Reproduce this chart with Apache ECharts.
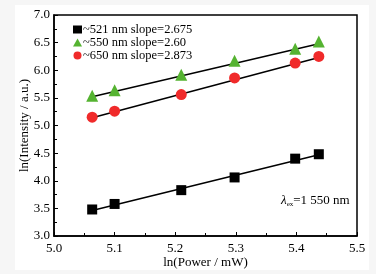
<!DOCTYPE html>
<html>
<head>
<meta charset="utf-8">
<script src="https://cdn.jsdelivr.net/npm/echarts@6/dist/echarts.min.js"></script>
<style>
  html, body { margin: 0; padding: 0; background: #f6f6f6; }
  #paper { position: absolute; left: 15px; top: 5px; width: 354px; height: 265px; background: #fff; }
  #main { position: absolute; left: 0; top: 0; width: 376px; height: 274px; }
</style>
</head>
<body>
<div id="paper"></div>
<div id="main"></div>
<script>
// ln(Power / mW)
var lnPower = [5.063, 5.100, 5.210, 5.298, 5.398, 5.437];
// ln(Intensity) per emission band
var band521 = [3.48, 3.58, 3.83, 4.06, 4.40, 4.48];
var band550 = [5.54, 5.64, 5.92, 6.17, 6.39, 6.52];
var band650 = [5.15, 5.26, 5.56, 5.86, 6.13, 6.25];
// fitted line ends
var fitX = [5.063, 5.437];
var fit521 = [3.46, 4.47];
var fit550 = [5.52, 6.48];
var fit650 = [5.14, 6.23];
var names = ['~521 nm slope=2.675', '~550 nm slope=2.60', '~650 nm slope=2.873'];

var font = 'Liberation Serif';
var pairs = function (xs, ys) { return xs.map(function (x, i) { return [x, ys[i]]; }); };

var axisCommon = {
    axisLine: { show: true, lineStyle: { color: '#000', width: 1.5 } },
    axisTick: { show: true, inside: true, length: 4, lineStyle: { color: '#000' } },
    minorTick: { show: true, splitNumber: 2, length: 3, lineStyle: { color: '#000' } },
    splitLine: { show: false },
    axisLabel: { color: '#000', fontFamily: font, fontSize: 13 },
    nameTextStyle: { color: '#000', fontFamily: font, fontSize: 13 }
};

var chart = echarts.init(document.getElementById('main'));
chart.setOption({
    backgroundColor: 'transparent',
    animation: false,
    grid: {
        left: 54, right: 19, top: 15, bottom: 38, show: true, borderColor: '#000', borderWidth: 1.5,
        outerBoundsMode: 'none', containLabel: false
    },
    legend: {
        left: 68, top: 18, orient: 'vertical', itemGap: 0, itemWidth: 9, itemHeight: 8,
        data: names,
        textStyle: { color: '#000', fontFamily: font, fontSize: 12.5, lineHeight: 13, padding: [0, 0, 0, -4] }
    },
    xAxis: Object.assign({}, axisCommon, {
        type: 'value', min: 5.0, max: 5.5, interval: 0.1,
        name: 'ln(Power / mW)', nameLocation: 'middle', nameGap: 20, nameMoveOverlap: false,
        axisLabel: Object.assign({}, axisCommon.axisLabel, { margin: 6, formatter: function (v) { return v.toFixed(1); } })
    }),
    yAxis: Object.assign({}, axisCommon, {
        type: 'value', min: 3.0, max: 7.0, interval: 0.5,
        name: 'ln(Intensity / a.u.)', nameLocation: 'middle', nameGap: 23, nameMoveOverlap: false,
        axisLabel: Object.assign({}, axisCommon.axisLabel, { margin: 4, formatter: function (v) { return v.toFixed(1); } })
    }),
    graphic: [{
        type: 'text', left: 281, top: 194,
        style: {
            text: '{l|λ}{s|ex}{t|=1 550 nm}',
            rich: {
                l: { fontFamily: font, fontSize: 13, fontStyle: 'italic', fill: '#000' },
                s: { fontFamily: font, fontSize: 7, fill: '#000', padding: [8, 0, 0, 0] },
                t: { fontFamily: font, fontSize: 13, fill: '#000' }
            }
        }
    }],
    series: [
        { type: 'line', data: pairs(fitX, fit521), symbol: 'none', lineStyle: { color: '#000', width: 1.5 }, silent: true, z: 1 },
        { type: 'line', data: pairs(fitX, fit550), symbol: 'none', lineStyle: { color: '#000', width: 1.5 }, silent: true, z: 1 },
        { type: 'line', data: pairs(fitX, fit650), symbol: 'none', lineStyle: { color: '#000', width: 1.5 }, silent: true, z: 1 },
        { name: names[0], type: 'scatter', data: pairs(lnPower, band521), symbol: 'rect', symbolSize: 10, itemStyle: { color: '#000', opacity: 1 }, z: 3 },
        { name: names[1], type: 'scatter', data: pairs(lnPower, band550), symbol: 'triangle', symbolSize: 12, itemStyle: { color: '#55b331', opacity: 1 }, z: 3 },
        { name: names[2], type: 'scatter', data: pairs(lnPower, band650), symbol: 'circle', symbolSize: 11, itemStyle: { color: '#f02a2a', opacity: 1 }, z: 3 }
    ]
});
</script>
</body>
</html>
